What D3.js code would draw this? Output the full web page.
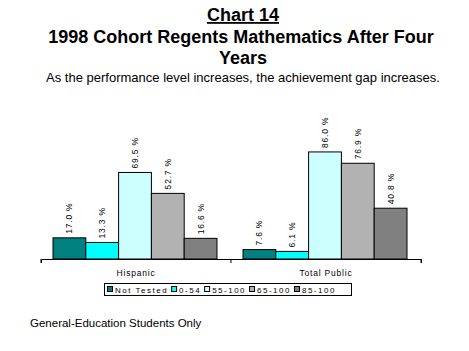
<!DOCTYPE html>
<html>
<head>
<meta charset="utf-8">
<script src="https://cdn.jsdelivr.net/npm/d3@7"></script>
<style>
  body { margin: 0; background: #fff; }
  text { font-family: Arial, "Liberation Sans", sans-serif; }
</style>
</head>
<body>
<div id="chart"></div>
<script>
// dane wykresu
const groups = ["Hispanic", "Total Public"];
const levels = ["Not Tested", "0-54", "55-100", "65-100", "85-100"];
const hispanic = [17.0, 13.3, 69.5, 52.7, 16.6];
const totalPublic = [7.6, 6.1, 86.0, 76.9, 40.8];
const yTicks = [0, 100];

const colors = d3.scaleOrdinal()
  .domain(levels)
  .range(["#008080", "#00ffff", "#ccffff", "#b2b2b2", "#808080"]);

const width = 469, height = 351;

const svg = d3.select("#chart").append("svg")
  .attr("width", width)
  .attr("height", height);

// tytuły
svg.append("text")
  .attr("x", 243).attr("y", 21)
  .attr("text-anchor", "middle")
  .attr("font-size", 18).attr("font-weight", "bold")
  .attr("text-decoration", "underline")
  .text("Chart 14");

svg.append("text")
  .attr("x", 241).attr("y", 43)
  .attr("text-anchor", "middle")
  .attr("font-size", 18).attr("font-weight", "bold")
  .text("1998 Cohort Regents Mathematics After Four");

svg.append("text")
  .attr("x", 243).attr("y", 64)
  .attr("text-anchor", "middle")
  .attr("font-size", 18).attr("font-weight", "bold")
  .text("Years");

svg.append("text")
  .attr("x", 243).attr("y", 82)
  .attr("text-anchor", "middle")
  .attr("font-size", 13)
  .text("As the performance level increases, the achievement gap increases.");

// skale
const x0 = d3.scaleBand()
  .domain(groups)
  .range([41, 421]);

const x1 = d3.scaleBand()
  .domain(levels)
  .range([12, x0.bandwidth() - 14])
  .padding(0);

const y = d3.scaleLinear()
  .domain(d3.extent(yTicks))
  .range([259, 134.5]);

const data = [hispanic, totalPublic];

const g = svg.append("g");

groups.forEach((grp, gi) => {
  const gg = g.append("g").attr("transform", `translate(${x0(grp)},0)`);
  gg.selectAll("rect")
    .data(data[gi])
    .join("rect")
    .attr("x", (d, i) => x1(levels[i]))
    .attr("y", d => y(d))
    .attr("width", x1.bandwidth())
    .attr("height", d => y(0) - y(d))
    .attr("fill", (d, i) => colors(levels[i]))
    .attr("stroke", "#000")
    .attr("stroke-width", 1);

  gg.selectAll("text.lbl")
    .data(data[gi])
    .join("text")
    .attr("class", "lbl")
    .attr("transform", (d, i) =>
      `translate(${x1(levels[i]) + x1.bandwidth() / 2 + 3},${y(d) - 4}) rotate(-90)`)
    .attr("font-size", 8.5)
    .attr("letter-spacing", 0.8)
    .text(d => d.toFixed(1) + " %");
});

// oś X
const axis = svg.append("g")
  .attr("transform", `translate(0,${y(0)})`)
  .call(d3.axisBottom(x0).tickSize(4).tickSizeOuter(4).tickFormat(""));
axis.select(".domain").attr("stroke", "#000");
axis.selectAll(".tick").attr("transform", d => `translate(${x0(d)},0)`);
// dodatkowy znacznik na końcu osi
axis.append("line")
  .attr("x1", 421).attr("x2", 421).attr("y1", 0).attr("y2", 4)
  .attr("stroke", "#000");

svg.selectAll("text.cat")
  .data(groups)
  .join("text")
  .attr("class", "cat")
  .attr("x", d => x0(d) + x0.bandwidth() / 2)
  .attr("y", 276)
  .attr("text-anchor", "middle")
  .attr("font-size", 8.5)
  .attr("letter-spacing", 0.8)
  .text(d => d);

// legenda
const leg = svg.append("g");
leg.append("rect")
  .attr("x", 104.5).attr("y", 283.5)
  .attr("width", 247).attr("height", 12)
  .attr("fill", "#fff").attr("stroke", "#000");

let lx = 107;
levels.forEach((lv, i) => {
  leg.append("rect")
    .attr("x", lx + 0.5).attr("y", 286.5)
    .attr("width", 5).attr("height", 5)
    .attr("fill", colors(lv)).attr("stroke", "#000");
  const t = leg.append("text")
    .attr("x", lx + 8).attr("y", 292.5)
    .attr("font-size", 8)
    .attr("letter-spacing", 1.5)
    .text(lv);
  lx += 8 + t.node().getComputedTextLength() + 3;
});

// stopka
svg.append("text")
  .attr("x", 30).attr("y", 327)
  .attr("font-size", 11.5)
  .text("General-Education Students Only");
</script>
</body>
</html>
